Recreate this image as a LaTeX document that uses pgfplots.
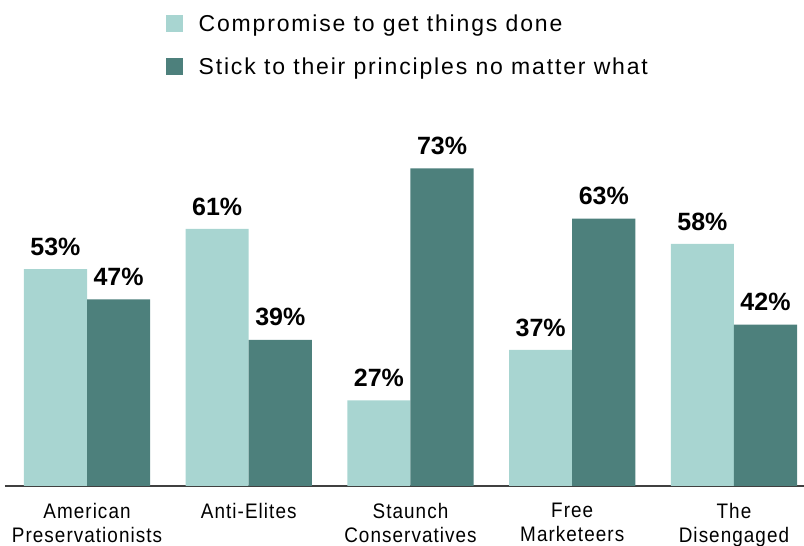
\documentclass[border=0pt]{standalone}
\usepackage{pgfplots}
\pgfplotsset{compat=1.18}
\usepackage{fontspec}
\setmainfont{Liberation Sans}
\newfontfamily\condfont[FakeStretch=0.9, LetterSpace=5]{Liberation Sans}
\newfontfamily\legfont[LetterSpace=8]{Liberation Sans}
\definecolor{lightteal}{HTML}{A8D5D1}
\definecolor{darkteal}{HTML}{4D807C}
\begin{document}
\begin{tikzpicture}
\path[use as bounding box] (0pt,0pt) rectangle (804pt,546pt);
\begin{axis}[
  at={(5pt,60pt)}, anchor=south west,
  scale only axis, width=799pt, height=353pt,
  xmin=-0.507, xmax=4.433, ymin=10, ymax=80,
  ybar, bar width=0.39, 
  axis x line*=bottom, axis y line=none,
  x axis line style={draw=black!75, line width=1.6pt, -},
  xtick={0,1,2,3,4}, major tick length=0pt,
  xticklabels={American\\Preservationists, Anti-Elites, Staunch\\Conservatives, Free\\Marketeers, The\\Disengaged},
  xticklabel style={align=center, font=\condfont\fontsize{21}{23.5}\selectfont, yshift=-14pt},
  ytick=\empty,
  clip=false,
  nodes near coords={\pgfmathprintnumber[assume math mode=true]{\pgfplotspointmeta}\%},
  nodes near coords style={font=\bfseries\fontsize{25}{28}\selectfont, yshift=10pt},
  legend style={at={(0.197,1.347)}, anchor=north west, draw=none, fill=none,
    font=\legfont\fontsize{23}{27}\selectfont, row sep=21pt, cells={anchor=west}},
  legend image code/.code={\fill[#1] (0pt,-8pt) rectangle (17pt,9pt);},
]
\addplot[fill=lightteal, draw=none, bar shift=-0.195] coordinates {(0,53) (1,61) (2,27) (3,37) (4,58)};
\addplot[fill=darkteal, draw=none, bar shift=0.195] coordinates {(0,47) (1,39) (2,73) (3,63) (4,42)};
\legend{\hspace{14pt}Compromise to get things done, \hspace{14pt}Stick to their principles no matter what}
\end{axis}
\end{tikzpicture}
\end{document}
